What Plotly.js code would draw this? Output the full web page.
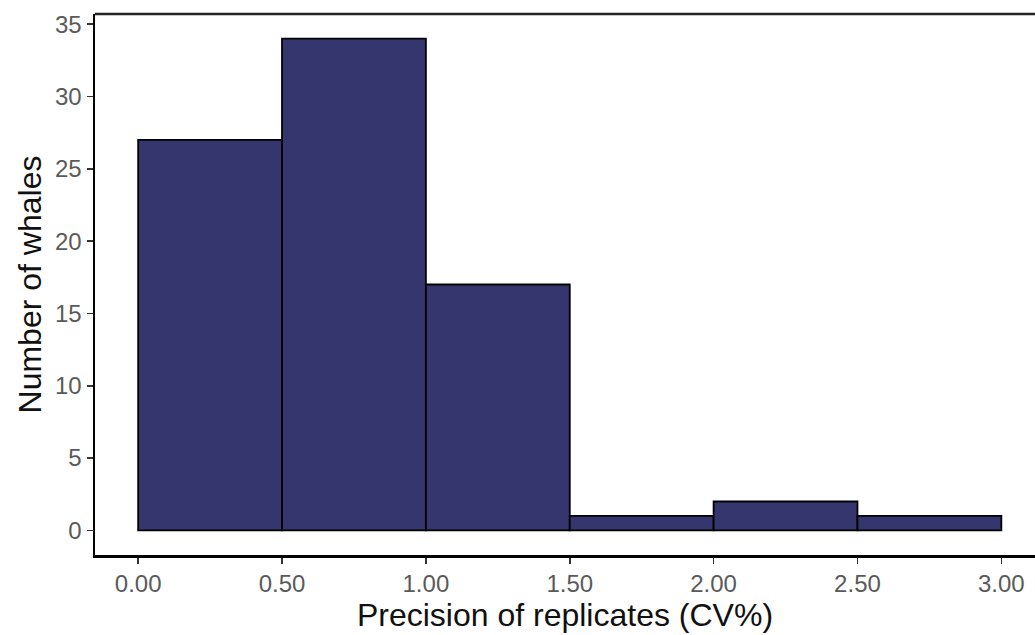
<!DOCTYPE html>
<html>
<head>
<meta charset="utf-8">
<script src="https://cdn.plot.ly/plotly-3.0.1.min.js"></script>
<style>html,body{margin:0;padding:0;background:#fff;}#chart{width:1035px;height:635px;}</style>
</head>
<body>
<div id="chart"></div>
<script>
const binStarts = [0.0, 0.5, 1.0, 1.5, 2.0, 2.5];
const binWidth = 0.5;
const counts = [27, 34, 17, 1, 2, 1];
const xTickVals = [0, 0.5, 1, 1.5, 2, 2.5, 3];
const xTickText = ["0.00", "0.50", "1.00", "1.50", "2.00", "2.50", "3.00"];
const yTickVals = [0, 5, 10, 15, 20, 25, 30, 35];

const centers = binStarts.map(s => s + binWidth / 2);

const trace = {
  type: 'bar',
  x: centers,
  y: counts,
  width: binWidth,
  marker: { color: '#36366e', line: { color: '#000', width: 1.8 } },
  hoverinfo: 'x+y'
};

const layout = {
  width: 1035, height: 635,
  margin: { l: 95, r: 0, t: 14, b: 80 },
  paper_bgcolor: '#fff', plot_bgcolor: '#fff',
  showlegend: false,
  bargap: 0,
  font: { family: 'Liberation Sans, Arial, sans-serif' },
  xaxis: {
    range: [-0.15, 3.117],
    tickvals: xTickVals, ticktext: xTickText,
    showgrid: false, zeroline: false,
    showline: true, linecolor: '#000', linewidth: 2.5,
    ticks: 'outside', ticklen: 6, tickwidth: 1.5, tickcolor: '#333',
    tickfont: { size: 24, color: '#5a5a5a' },
    title: { text: 'Precision of replicates (CV%)', font: { size: 32, color: '#111' }, standoff: 1 }
  },
  yaxis: {
    range: [-1.7, 35.7],
    tickvals: yTickVals,
    showgrid: false, zeroline: false,
    showline: true, linecolor: '#000', linewidth: 2.5,
    ticks: 'outside', ticklen: 6, tickwidth: 1.5, tickcolor: '#333',
    tickfont: { size: 24, color: '#5a5a5a' },
    title: { text: 'Number of whales', font: { size: 32, color: '#111' }, standoff: 4 }
  },
  shapes: [{
    type: 'line', xref: 'paper', yref: 'paper', x0: 0, x1: 1, y0: 1, y1: 1,
    line: { color: '#222', width: 2.5 }
  }]
};

Plotly.newPlot('chart', [trace], layout, { displayModeBar: false, staticPlot: true });
</script>
</body>
</html>
